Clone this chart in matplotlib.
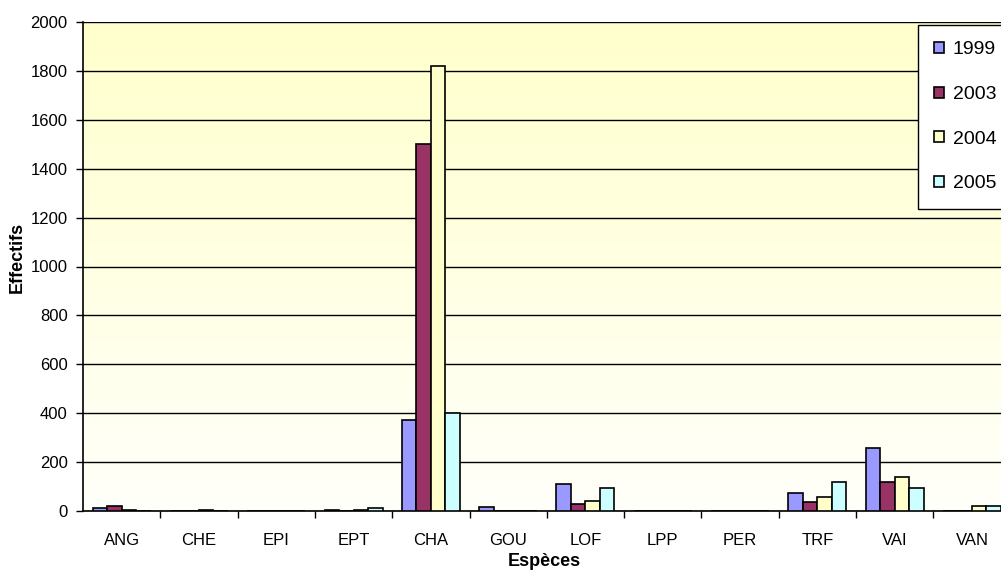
import numpy as np
import matplotlib
matplotlib.use('Agg')
import matplotlib.pyplot as plt
from matplotlib.colors import LinearSegmentedColormap

plt.rcParams['font.family'] = ['Liberation Sans', 'DejaVu Sans']

# effectifs par espece et par annee
especes = ['ANG', 'CHE', 'EPI', 'EPT', 'CHA', 'GOU', 'LOF', 'LPP', 'PER', 'TRF', 'VAI', 'VAN']
annees = ['1999', '2003', '2004', '2005']
eff_1999 = [12, 0, 0, 3, 372, 18, 109, 0, 0, 72, 256, 0]
eff_2003 = [20, 0, 0, 0, 1500, 0, 29, 0, 0, 38, 117, 0]
eff_2004 = [4, 3, 0, 3, 1820, 0, 42, 0, 0, 59, 138, 19]
eff_2005 = [0, 0, 0, 12, 400, 0, 95, 0, 0, 117, 93, 19]
couleurs = ['#9999FF', '#993366', '#FFFFCC', '#CCFFFF']

fig = plt.figure(figsize=(10.01, 5.72), dpi=100)
ax = fig.add_axes([83 / 1001, 61 / 572, 927.6 / 1001, 489 / 572])

# fond degrade jaune -> blanc
cmap = LinearSegmentedColormap.from_list('fond', ['#FFFFFA', '#FFFFCC'])
grad = np.linspace(0, 1, 256).reshape(-1, 1)
ax.imshow(grad, cmap=cmap, origin='lower', aspect='auto',
          extent=[0, 1, 0, 1], transform=ax.transAxes, zorder=0)

x = np.arange(len(especes))
w = 0.1875
series = [eff_1999, eff_2003, eff_2004, eff_2005]
for i, (vals, lab, col) in enumerate(zip(series, annees, couleurs)):
    ax.bar(x + (i - 1.5) * w, vals, w, color=col, edgecolor='black',
           linewidth=1.2, label=lab, zorder=3)

ax.set_xlim(-0.5, len(especes) - 0.5)
ax.set_ylim(0, 2000)
ax.set_yticks(np.arange(0, 2001, 200))
ax.yaxis.grid(True, color='black', linewidth=1, zorder=1)
ax.set_axisbelow(True)

ax.set_xticks(x)
ax.set_xticklabels(especes)
ax.set_xticks(np.arange(0.5, len(especes) - 0.5, 1), minor=True)
ax.tick_params(axis='x', which='major', length=0, pad=16, labelsize=12)
ax.tick_params(axis='x', which='minor', length=5, width=1, direction='out')
ax.tick_params(axis='y', length=5, width=1, direction='out', pad=6, labelsize=12)

for s in ['top', 'right']:
    ax.spines[s].set_visible(False)
for s in ['left', 'bottom']:
    ax.spines[s].set_color('black')
    ax.spines[s].set_linewidth(1.2)

ax.set_xlabel('Espèces', fontsize=13, fontweight='bold', va='center')
ax.xaxis.set_label_coords(0.497, -0.104)
ax.set_ylabel('Effectifs', fontsize=13, fontweight='bold', va='center')
ax.yaxis.set_label_coords(-0.0704, 0.519)

leg = ax.legend(loc='upper left', bbox_to_anchor=(0.900, 0.994), fontsize=14,
                handlelength=0.5, handleheight=0.5, handletextpad=0.45,
                labelspacing=1.42, borderpad=0.85, fancybox=False, framealpha=1,
                borderaxespad=0)
leg.get_frame().set_edgecolor('black')
leg.get_frame().set_linewidth(1)

fig.savefig('out.png', dpi=100)
